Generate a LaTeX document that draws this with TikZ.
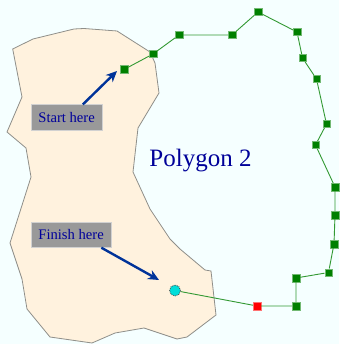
\documentclass[tikz,border=0pt]{standalone}
\usepackage{fontspec}
\setmainfont{Liberation Serif}
\usetikzlibrary{arrows.meta}
\newlength{\du}
\setlength{\du}{1pt}
\definecolor{skycolor}{rgb}{0.960000, 1.000000, 1.000000}
\definecolor{landcolor}{rgb}{1.000000, 0.949000, 0.870000}
\definecolor{shorecolor}{rgb}{0.560000, 0.560000, 0.540000}
\definecolor{routecolor}{rgb}{0.000000, 0.502000, 0.000000}
\definecolor{pointercolor}{rgb}{0.000000, 0.200000, 0.600000}
\definecolor{labelcolor}{rgb}{0.000000, 0.000000, 0.600000}
\definecolor{tagcolor}{rgb}{0.600000, 0.600000, 0.600000}
\definecolor{finishcolor}{rgb}{0.000000, 0.870000, 0.850000}
\tikzset{
  vertexmark/.style={draw=routecolor!55!white,line width=0.5pt,fill=routecolor,inner sep=0pt,minimum size=7.5\du},
  endmark/.style={draw=red!55!white,line width=0.5pt,fill=red,inner sep=0pt,minimum size=7.5\du},
  finishmark/.style={circle,draw=black!70,densely dotted,line width=0.8pt,fill=finishcolor,inner sep=0pt,minimum size=11\du},
  routeline/.style={draw=routecolor!80!white,line width=0.9pt},
  pointer/.style={draw=pointercolor,line width=2.4pt,-{Stealth[length=11pt,width=10pt]}},
  tagbox/.style={draw=black!18,line width=0.7pt,fill=tagcolor,text=labelcolor,font=\fontsize{14.6}{16}\selectfont,inner sep=0pt,anchor=north west}
}

\begin{document}
\begin{tikzpicture}
\pgftransformxscale{1.000000}
\pgftransformyscale{-1.000000}
\useasboundingbox (0.000000\du,0.000000\du) rectangle (339.000000\du,344.000000\du);
\fill[skycolor] (0.000000\du,0.000000\du) rectangle (339.000000\du,344.000000\du);
% land
\draw[fill=landcolor,draw=shorecolor,line width=0.8pt] (12.700000\du,49.000000\du)--(33.000000\du,39.000000\du)--(74.000000\du,29.000000\du)--(84.000000\du,28.500000\du)--(117.000000\du,31.000000\du)--(150.000000\du,52.000000\du)--(155.000000\du,63.000000\du)--(159.000000\du,93.000000\du)--(138.000000\du,128.000000\du)--(133.000000\du,172.000000\du)--(150.000000\du,209.000000\du)--(170.000000\du,239.000000\du)--(180.000000\du,249.000000\du)--(205.000000\du,270.000000\du)--(211.000000\du,271.000000\du)--(216.000000\du,315.000000\du)--(187.000000\du,337.000000\du)--(177.000000\du,339.000000\du)--(144.000000\du,328.000000\du)--(115.000000\du,333.000000\du)--(92.000000\du,343.000000\du)--(50.000000\du,337.000000\du)--(27.000000\du,309.000000\du)--(22.000000\du,279.000000\du)--(10.000000\du,243.000000\du)--(31.000000\du,177.000000\du)--(26.000000\du,148.000000\du)--(7.000000\du,132.000000\du)--(22.000000\du,97.000000\du)--cycle;
% route points
\node[vertexmark] (route1) at (124.000000\du,69.500000\du){};
\node[vertexmark] (route2) at (153.000000\du,54.000000\du){};
\node[vertexmark] (route3) at (179.000000\du,35.000000\du){};
\node[vertexmark] (route4) at (232.000000\du,35.000000\du){};
\node[vertexmark] (route5) at (258.000000\du,12.000000\du){};
\node[vertexmark] (route6) at (297.000000\du,32.000000\du){};
\node[vertexmark] (route7) at (302.500000\du,58.000000\du){};
\node[vertexmark] (route8) at (316.500000\du,79.000000\du){};
\node[vertexmark] (route9) at (326.500000\du,124.000000\du){};
\node[vertexmark] (route10) at (315.500000\du,145.000000\du){};
\node[vertexmark] (route11) at (335.000000\du,187.000000\du){};
\node[vertexmark] (route12) at (335.000000\du,215.000000\du){};
\node[vertexmark] (route13) at (334.000000\du,244.000000\du){};
\node[vertexmark] (route14) at (328.500000\du,272.500000\du){};
\node[vertexmark] (route15) at (296.000000\du,278.000000\du){};
\node[vertexmark] (route16) at (296.000000\du,306.000000\du){};
\node[endmark] (route17) at (257.000000\du,306.000000\du){};
\node[finishmark] (route18) at (175.000000\du,290.500000\du){};
\draw[routeline] (route1)--(route2)--(route3)--(route4)--(route5)--(route6)--(route7)--(route8)--(route9)--(route10)--(route11)--(route12)--(route13)--(route14)--(route15)--(route16)--(route17)--(route18);
% labels
\node[tagbox,minimum width=71.500000\du,minimum height=25.500000\du] (startlabel) at (30.500000\du,104.500000\du){Start here};
\node[tagbox,minimum width=80.500000\du,minimum height=25.000000\du] (finishlabel) at (30.500000\du,222.000000\du){Finish here};
\node[text=labelcolor,font=\fontsize{25}{29}\selectfont,inner sep=0pt] (polygonlabel) at (200.500000\du,160.500000\du){Polygon 2};
% pointers
\coordinate (starttip) at (117.000000\du,71.000000\du);
\coordinate (finishtip) at (159.000000\du,280.000000\du);
\draw[pointer] (startlabel.39)--(starttip);
\draw[pointer] (finishlabel.-23)--(finishtip);
\end{tikzpicture}
\end{document}
